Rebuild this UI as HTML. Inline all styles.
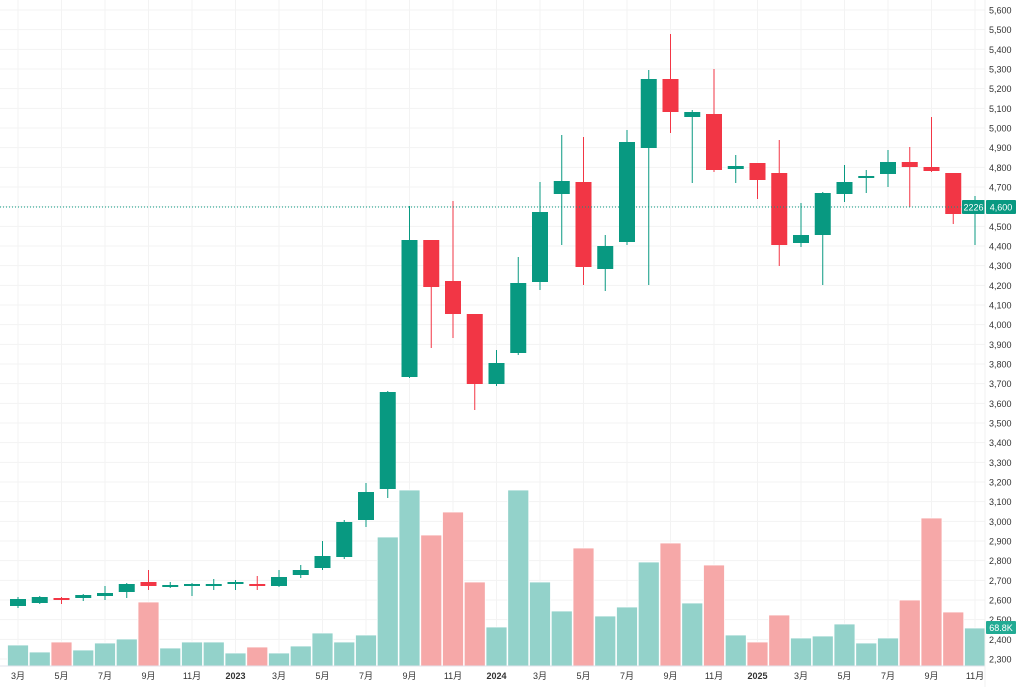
<!DOCTYPE html><html><head><meta charset="utf-8"><style>body{margin:0;background:#fff}svg{display:block;font-family:"Liberation Sans","Noto Sans CJK SC",sans-serif}</style></head><body>
<svg id="s" width="1024" height="687" xmlns="http://www.w3.org/2000/svg"></svg>
<script>
const d=[[599,606,597,608,645,1],[597,603,596,604,652,1],[598,600,597,604,642,0],[595,598,594,601,650,1],[593,596,586,600,643,1],[584,592,583,598,639,1],[582,586,570,590,602,0],[585,586,582,588,648,1],[584,586,583,596,642,1],[584,585,579,590,642,1],[582,584,580,590,653,1],[584,586,576,590,647,0],[577,586,570,587,653,1],[570,575,565,578,646,1],[556,568,541,570,633,1],[522,557,520,559,642,1],[492,520,483,527,635,1],[392,489,391,498,537,1],[240,377,206,378,490,1],[240,287,240,348,535,0],[281,314,201,338,512,0],[314,384,314,410,582,0],[363,384,350,386,627,1],[283,353,257,355,490,1],[212,282,182,290,582,1],[181,194,135,245,611,1],[182,267,137,285,548,0],[246,269,235,291,616,1],[79,242,70,245,607,1],[79,148,70,285,562,1],[79,112,34,133,543,0],[112,117,110,183,603,1],[114,170,69,172,565,0],[166,169,155,183,635,1],[163,180,163,199,642,0],[173,245,140,266,615,0],[235,243,203,247,638,1],[193,235,192,285,636,1],[182,194,165,202,624,1],[176,178,170,193,643,1],[162,174,150,187,638,1],[162,167,147,207,600,0],[167,171,117,172,518,0],[173,214,173,224,612,0],[202,214,196,245,628,1]];
// fix Jul/Aug 2024
d[28]=[142,242,130,245,607,1];
let h='';const X=i=>18+i*21.75;
for(let p=2300;p<=5600;p+=100){const y=10+(5600-p)*0.19667;h+=`<line x1="0" x2="985" y1="${y}" y2="${y}" stroke="#f3f3f3"/><text x="989" y="${y+3.5}" font-size="9" fill="#333">${(p/1000|0)},${String(p%1000).padStart(3,'0')}</text>`;}
const labs=[[0,'3月'],[2,'5月'],[4,'7月'],[6,'9月'],[8,'11月'],[10,'2023',1],[12,'3月'],[14,'5月'],[16,'7月'],[18,'9月'],[20,'11月'],[22,'2024',1],[24,'3月'],[26,'5月'],[28,'7月'],[30,'9月'],[32,'11月'],[34,'2025',1],[36,'3月'],[38,'5月'],[40,'7月'],[42,'9月'],[44,'11月']];
labs.forEach(l=>{const x=X(l[0]);h+=`<line x1="${x}" x2="${x}" y1="0" y2="666" stroke="#f3f3f3"/><text x="${x}" y="679" font-size="9" text-anchor="middle" fill="#333" ${l[2]?'font-weight="bold"':''}>${l[1]}</text>`;});
d.forEach((c,i)=>{const x=X(i);h+=`<rect x="${x-10.5}" y="${c[4]}" width="21" height="${666-c[4]}" fill="${c[5]?'#93d2ca':'#f6a8a8'}" stroke="#fff" stroke-width="0.8"/>`;});
d.forEach((c,i)=>{const x=X(i),col=c[5]?'#089981':'#f23645';h+=`<line x1="${x}" x2="${x}" y1="${c[2]}" y2="${c[3]}" stroke="${col}"/><rect x="${x-8}" y="${c[0]}" width="16" height="${Math.max(2,c[1]-c[0])}" fill="${col}"/>`;});
h+=`<line x1="0" x2="962" y1="207" y2="207" stroke="#089981" stroke-dasharray="1,2"/>`;
h+=`<rect x="962" y="200" width="23" height="14" fill="#089981" rx="1"/><text x="973.5" y="210.5" font-size="9" fill="#fff" text-anchor="middle">2226</text>`;
h+=`<rect x="986" y="200" width="30" height="14" fill="#089981" rx="1"/><text x="1001" y="210.5" font-size="9" fill="#fff" text-anchor="middle">4,600</text>`;
h+=`<rect x="986" y="621" width="30" height="13" fill="#22ab94" rx="1"/><text x="1001" y="631" font-size="9" fill="#fff" text-anchor="middle">68.8K</text>`;
h+=`<line x1="0" x2="985" y1="666" y2="666" stroke="#e0e3eb"/><line x1="985" x2="985" y1="0" y2="687" stroke="#f0f0f0"/>`;
document.getElementById('s').innerHTML=h;
</script></body></html>
